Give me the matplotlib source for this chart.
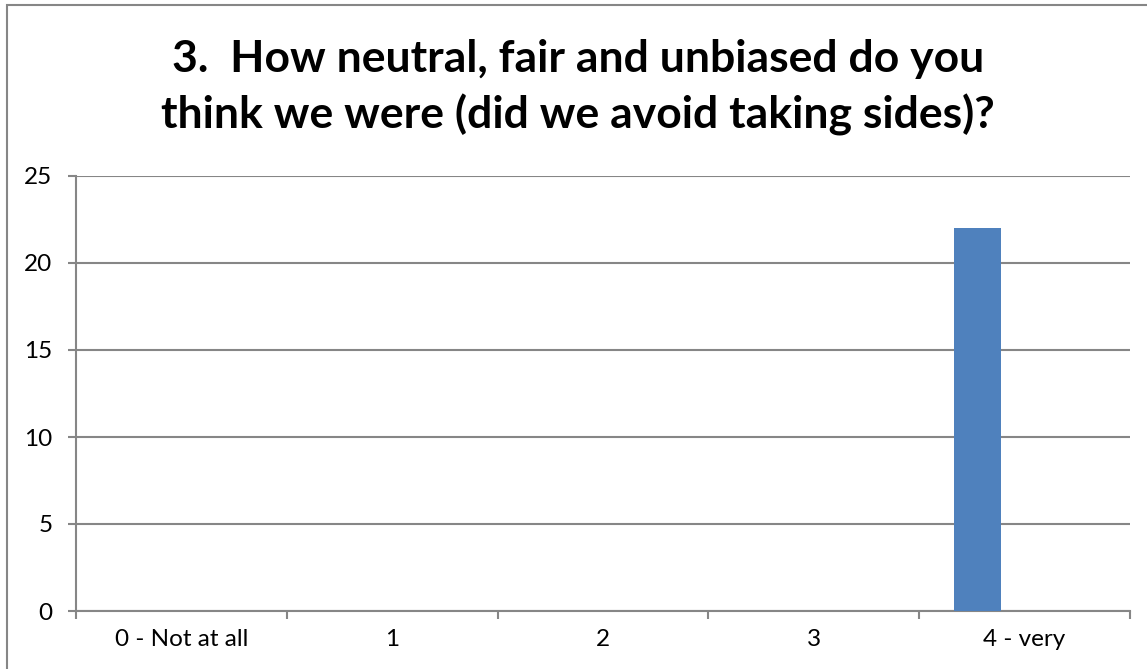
import matplotlib
matplotlib.use("Agg")
import matplotlib.pyplot as plt
import numpy as np
from matplotlib.patches import Rectangle

categories = ["0 - Not at all", "1", "2", "3", "4 - very"]
series1 = [0, 0, 0, 0, 22]
series2 = [0, 0, 0, 0, 0]
series3 = [0, 0, 0, 0, 0]
yticks = [0, 5, 10, 15, 20, 25]
title = "3.  How neutral, fair and unbiased do you\nthink we were (did we avoid taking sides)?"

W, H = 1147, 669
fig = plt.figure(figsize=(W / 100, H / 100), dpi=100)
fig.patch.set_facecolor("white")

# outer chart border (only left & top visible)
fig.add_artist(Rectangle((7 / W, -0.1), 1.2, (H - 5) / H + 0.1, transform=fig.transFigure,
                         fill=False, edgecolor="#868686", linewidth=1.5))

left, right, top, bottom = 76, 1130, 176, 611
ax = fig.add_axes([left / W, 1 - bottom / H, (right - left) / W, (bottom - top) / H])

grid = "#868686"
x = np.arange(len(categories))
bw = 0.223
ax.bar(x - bw, series1, width=bw, color="#4F81BD", zorder=3)
ax.bar(x, series2, width=bw, color="#C0504D", zorder=3)
ax.bar(x + bw, series3, width=bw, color="#9BBB59", zorder=3)

ax.set_xlim(-0.5, len(categories) - 0.5)
ax.set_ylim(0, 25)
ax.set_yticks(yticks)
ax.set_yticklabels([str(v) for v in yticks])
ax.yaxis.grid(True, color=grid, linewidth=1.5, zorder=0)
ax.set_axisbelow(True)

ax.set_xticks(x)
ax.set_xticklabels(categories)
ax.set_xticks(np.arange(-0.5, len(categories)), minor=True)
ax.tick_params(axis="x", which="major", length=0, pad=13)
ax.tick_params(axis="x", which="minor", length=6, width=1.5, color=grid, direction="out")
ax.tick_params(axis="y", length=6, width=1.5, color=grid, direction="out", pad=11)

for s in ["top", "right"]:
    ax.spines[s].set_visible(False)
for s in ["left", "bottom"]:
    ax.spines[s].set_color(grid)
    ax.spines[s].set_linewidth(1.5)

for lbl in ax.get_xticklabels() + ax.get_yticklabels():
    lbl.set_fontfamily("Lato")
    lbl.set_fontsize(17.5)
    lbl.set_color("black")

for line, ybase in zip(title.split("\n"), [72, 128]):
    fig.text(578 / W, 1 - ybase / H, line, ha="center", va="baseline", fontfamily="Lato",
             fontweight="bold", fontsize=32)

fig.savefig("out.png", dpi=100, facecolor="white")
